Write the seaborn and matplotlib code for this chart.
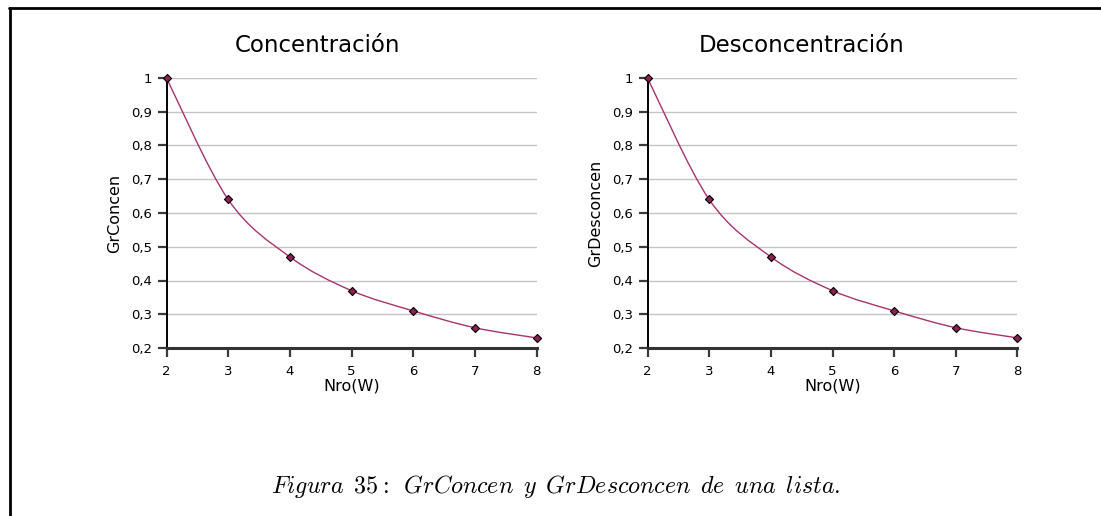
import matplotlib
matplotlib.use("Agg")
import matplotlib.pyplot as plt
from matplotlib.path import Path
from matplotlib.patches import PathPatch
from matplotlib.lines import Line2D
import numpy as np
import pandas as pd
import seaborn as sns

# Values for each panel
nro_w = [2, 3, 4, 5, 6, 7, 8]
gr_concen = [1.0, 0.64, 0.47, 0.37, 0.31, 0.26, 0.23]
gr_desconcen = [1.0, 0.64, 0.47, 0.37, 0.31, 0.26, 0.23]

titles = ["Concentración", "Desconcentración"]
ylabels = ["GrConcen", "GrDesconcen"]
xlabel = "Nro(W)"
yticks = [0.2, 0.3, 0.4, 0.5, 0.6, 0.7, 0.8, 0.9, 1.0]
ytick_labels = ["0,2", "0,3", "0,4", "0,5", "0,6", "0,7", "0,8", "0,9", "1"]
caption = "Figura 35: GrConcen y GrDesconcen de una lista."

sns.set_theme(style="ticks")
plt.rcParams["font.family"] = ["DejaVu Sans"]
plt.rcParams["mathtext.fontset"] = "cm"

LINE_COLOR = "#a8336e"
MARK_COLOR = "#8b2252"
TICK_COLOR = "#3a3a3a"

W, H = 1101, 516
fig = plt.figure(figsize=(W / 100, H / 100), dpi=100)


def smooth_path(xs, ys):
    """Cubic Bezier path (Catmull-Rom style) through the data points."""
    p = np.column_stack([xs, ys]).astype(float)
    ext = np.vstack([p[0], p, p[-1]])
    verts = [p[0]]
    codes = [Path.MOVETO]
    for i in range(len(p) - 1):
        p0, p1, p2, p3 = ext[i], ext[i + 1], ext[i + 2], ext[i + 3]
        c1 = p1 + (p2 - p0) / 6.0
        c2 = p2 - (p3 - p1) / 6.0
        verts += [c1, c2, p2]
        codes += [Path.CURVE4] * 3
    return Path(verts, codes)


def panel(rect, values, title, ylabel, title_x, ylabel_x):
    ax = fig.add_axes(rect)
    df = pd.DataFrame({"x": nro_w, "y": values})
    ax.add_patch(PathPatch(smooth_path(df["x"], df["y"]), facecolor="none",
                           edgecolor=LINE_COLOR, lw=1.0, zorder=3))
    sns.scatterplot(data=df, x="x", y="y", ax=ax, marker="D", s=17,
                    color=MARK_COLOR, edgecolor="black", linewidth=0.8,
                    zorder=4, clip_on=False, legend=False)
    ax.set_xlim(2, 8)
    ax.set_ylim(0.2, 1.0)
    ax.set_xticks(nro_w)
    ax.set_xticklabels([str(v) for v in nro_w])
    ax.set_yticks(yticks)
    ax.set_yticklabels(ytick_labels)
    ax.xaxis.set_ticks_position("bottom")
    ax.yaxis.set_ticks_position("left")
    ax.tick_params(axis="both", which="major", labelsize=9.5, length=6.5,
                   width=1.6, color=TICK_COLOR, direction="out",
                   labelcolor="black")
    ax.tick_params(axis="x", pad=6)
    ax.tick_params(axis="y", pad=4)
    ax.yaxis.grid(True, color="#c4c4c4", lw=1.0)
    ax.xaxis.grid(False)
    for s in ("top", "right"):
        ax.spines[s].set_visible(False)
    ax.spines["left"].set_color("black")
    ax.spines["left"].set_linewidth(1.4)
    ax.spines["bottom"].set_color("#333333")
    ax.spines["bottom"].set_linewidth(2.2)
    ax.set_xlabel(xlabel, fontsize=11.5, color="black")
    ax.set_ylabel(ylabel, fontsize=11.5, color="black")
    ax.xaxis.set_label_coords(0.5, -(386 - 348) / 270)
    ax.xaxis.label.set_va("center")
    ax.yaxis.set_label_coords(ylabel_x, 0.5)
    ax.yaxis.label.set_va("center")
    fig.text(title_x / W, 1 - 45 / H, title, fontsize=16.5, ha="center",
             va="center", color="black")
    return ax


axh = 270 / H
axb = 1 - 348 / H
axw = 370 / W
panel([166.5 / W, axb, axw, axh], gr_concen, titles[0], ylabels[0],
      318, (115 - 166.5) / 370)
panel([647.5 / W, axb, axw, axh], gr_desconcen, titles[1], ylabels[1],
      802, (596 - 647.5) / 370)

# Caption below the panels
cap_tex = (r"$\mathit{" + caption.replace(" ", r"\ \,").replace(":", "{:}")
           + r"}$")
fig.text(556 / W, 1 - 486 / H, cap_tex, fontsize=17.3, ha="center",
         va="center", color="black")

# Frame lines along the top and left edges
fig.add_artist(Line2D([9 / W, 1.0], [1 - 8 / H, 1 - 8 / H], color="black",
                      lw=2.0, transform=fig.transFigure))
fig.add_artist(Line2D([10.3 / W, 10.3 / W], [0.0, 1 - 8 / H], color="black",
                      lw=2.0, transform=fig.transFigure))

fig.savefig("out.png", dpi=100, facecolor="white")
